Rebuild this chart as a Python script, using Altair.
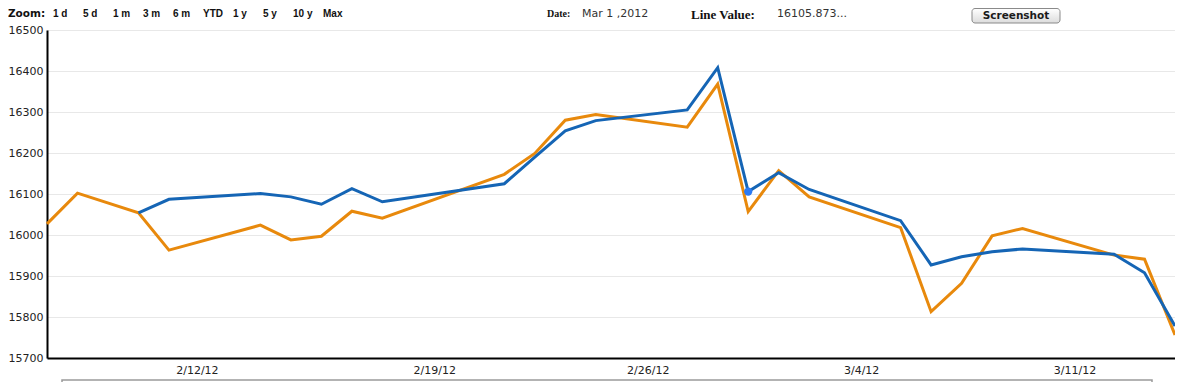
import altair as alt
import pandas as pd

# ---- data ----
dates = ["2012-02-06", "2012-02-07", "2012-02-09", "2012-02-10", "2012-02-13",
         "2012-02-14", "2012-02-15", "2012-02-16", "2012-02-17", "2012-02-21",
         "2012-02-22", "2012-02-23", "2012-02-24", "2012-02-27", "2012-02-28",
         "2012-02-29", "2012-03-01", "2012-03-02", "2012-03-05", "2012-03-06",
         "2012-03-07", "2012-03-08", "2012-03-09", "2012-03-12", "2012-03-13",
         "2012-03-14"]
orange_values = [16027, 16102, 16054, 15963, 16024, 15988, 15997, 16058, 16041, 16148,
                 16199, 16280, 16294, 16263, 16368, 16057, 16157, 16093, 16018, 15813,
                 15882, 15998, 16016, 15951, 15941, 15756]
blue_values = [None, None, 16054, 16087, 16101, 16093, 16075, 16113, 16081, 16125,
               16190, 16254, 16279, 16305, 16408, 16105.873, 16152, 16111, 16035, 15927,
               15947, 15959, 15966, 15953, 15908, 15778]
hover_date = "2012-02-29"
hover_value = 16105.873

y_ticks = [15700, 15800, 15900, 16000, 16100, 16200, 16300, 16400, 16500]
x_tick_dates = ["2012-02-12", "2012-02-19", "2012-02-26", "2012-03-04", "2012-03-11"]
x_domain = ["2012-02-06", "2012-03-14"]

zoom_buttons = ["1 d", "5 d", "1 m", "3 m", "6 m", "YTD", "1 y", "5 y", "10 y", "Max"]

ORANGE = "#E8890C"
BLUE = "#1565B5"
FONT = "DejaVu Sans"

df_o = pd.DataFrame({"date": dates, "value": orange_values})
df_b = pd.DataFrame({"date": dates, "value": blue_values}).dropna()
df_h = pd.DataFrame({"date": [hover_date], "value": [hover_value]})


def utc(s):
    y, m, d = (int(p) for p in s.split("-"))
    return alt.DateTime(year=y, month=m, date=d, utc=True)


x_enc = alt.X(
    "date:T",
    scale=alt.Scale(type="utc", domain=[utc(d) for d in x_domain]),
    axis=alt.Axis(
        values=[utc(d) for d in x_tick_dates],
        labelExpr="utcFormat(datum.value, '%-m/%-d/%y')",
        grid=False, ticks=False,
        domainColor="#000000", domainWidth=2,
        labelFont=FONT, labelFontSize=11, labelColor="#222222",
        labelPadding=6,
        labelOffset=alt.condition("datum.index == 0", alt.value(-33), alt.value(-9)),
    ),
    title=None,
)
y_enc = alt.Y(
    "value:Q",
    scale=alt.Scale(domain=[15700, 16500], zero=False, nice=False),
    axis=alt.Axis(
        values=y_ticks, format="d", grid=True, gridColor="#e8e8e8", gridWidth=1,
        ticks=False, domainColor="#000000", domainWidth=2,
        labelFont=FONT, labelFontSize=11, labelColor="#222222", labelPadding=4,
    ),
    title=None,
)

orange_line = alt.Chart(df_o).mark_line(color=ORANGE, strokeWidth=3).encode(x=x_enc, y=y_enc)
blue_line = alt.Chart(df_b).mark_line(color=BLUE, strokeWidth=3).encode(x=x_enc, y=y_enc)
hover_pt = alt.Chart(df_h).mark_circle(color="#2B7BF5", size=70, opacity=1).encode(x=x_enc, y=y_enc)


def txt(t, x, y, font=FONT, size=11, weight="normal", align="left", color="#222222"):
    return alt.Chart(pd.DataFrame({"t": [t]})).mark_text(
        font=font, fontSize=size, fontWeight=weight, align=align,
        baseline="middle", color=color,
    ).encode(x=alt.value(x), y=alt.value(y), text="t:N")


OX, OY = 47, 30  # plot origin in page pixels
HY = 14  # header text centre line (page px)
header = [txt("Zoom:", 8 - OX, HY - OY, size=10.5, weight="bold", color="#111111")]
btn_x = [53, 83, 113, 143, 173, 203, 233, 263, 293, 323]
for b, bx in zip(zoom_buttons, btn_x):
    header.append(txt(b, bx - OX, HY - OY, font="Liberation Sans", size=10, weight="bold", color="#111111"))
header += [
    txt("Date:", 547 - OX, HY - OY, font="Liberation Serif", size=10, weight="bold", color="#111111"),
    txt("Mar 1 ,2012", 582 - OX, HY - OY, size=11, color="#333333"),
    txt("Line Value:", 691 - OX, HY + 1 - OY, font="Liberation Serif", size=13, weight="bold", color="#111111"),
    txt("16105.873...", 777 - OX, HY - OY, size=11, color="#333333"),
]

button = alt.Chart(pd.DataFrame({"a": [0]})).mark_rect(
    cornerRadius=3, stroke="#8a8a8a", strokeWidth=1,
    fill=alt.LinearGradient(gradient="linear", x1=0, x2=0, y1=0, y2=1,
                            stops=[alt.GradientStop(color="#ffffff", offset=0),
                                   alt.GradientStop(color="#dcdcdc", offset=1)]),
).encode(x=alt.value(972 - OX), x2=alt.value(1060 - OX), y=alt.value(8.5 - OY), y2=alt.value(23 - OY))
button_text = txt("Screenshot", 1016 - OX, 15.5 - OY, size=10.5, weight="bold", align="center", color="#1a1a1a")

navigator = alt.Chart(pd.DataFrame({"a": [0]})).mark_rect(
    fill="#ffffff", fillOpacity=0, stroke="#9a9a9a", strokeWidth=1.5,
).encode(x=alt.value(62 - OX), x2=alt.value(1152 - OX), y=alt.value(380 - OY), y2=alt.value(420 - OY))

chart = alt.layer(
    orange_line, blue_line, hover_pt, navigator, button, button_text, *header
).properties(
    width=1128, height=328,
    padding={"left": 39, "top": 22, "right": 0, "bottom": 24},
    autosize=alt.AutoSizeParams(type="none"),
).configure_view(strokeWidth=0).configure(background="#ffffff")

chart.save("out.html", embed_options={"renderer": "svg", "actions": False})
